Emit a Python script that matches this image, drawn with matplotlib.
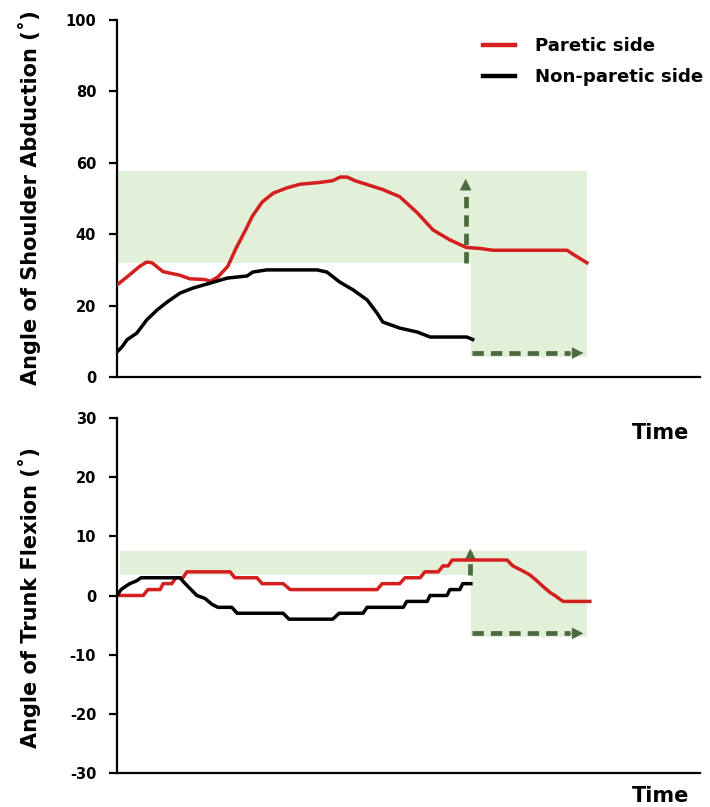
import matplotlib
matplotlib.use("Agg")
import matplotlib.pyplot as plt

plt.rcParams['font.family'] = ['DejaVu Sans']
plt.rcParams['font.weight'] = 'bold'

# ---- shoulder abduction (deg) vs normalised time ----
shoulder_paretic_t = [0, 1.7, 3.9, 5.1, 6.0, 7.9, 10.8, 12.5, 15.1, 16.0, 17.3, 19.0, 20.4, 22.0,
                      23.2, 24.9, 26.8, 29.2, 31.4, 34.8, 37.0, 38.3, 39.5, 40.8, 45.6, 48.5,
                      51.5, 54.2, 57.1, 59.9, 62.3, 64.5, 77.2, 78.6, 80.6]
shoulder_paretic = [25.8, 28.0, 31.0, 32.2, 32.0, 29.5, 28.5, 27.5, 27.3, 26.8, 28.0, 31.0, 36.0, 41.0,
                    45.0, 49.0, 51.5, 53.0, 54.0, 54.5, 55.0, 56.0, 56.0, 55.0, 52.5, 50.5,
                    46.0, 41.2, 38.4, 36.3, 36.0, 35.5, 35.5, 34.0, 32.0]

shoulder_nonparetic_t = [0, 0.9, 1.7, 3.4, 5.1, 6.9, 8.6, 10.8, 13.0, 16.0, 18.9, 22.3, 23.3, 25.7,
                         34.3, 36.0, 38.2, 40.5, 42.9, 44.6, 45.6, 48.5, 51.5, 53.7, 60.0, 61.0]
shoulder_nonparetic = [7.0, 8.5, 10.4, 12.3, 16.0, 18.8, 21.0, 23.5, 24.9, 26.3, 27.7, 28.3, 29.4, 30.0,
                       30.0, 29.4, 26.6, 24.4, 21.6, 17.9, 15.4, 13.7, 12.6, 11.2, 11.2, 10.5]

# ---- trunk flexion (deg) vs normalised time ----
trunk_paretic_t = [0, 4.5, 5.3, 7.4, 7.9, 9.4, 10.1, 11.3, 12.0, 19.4, 20.2, 24.0, 24.9, 28.5,
                   29.7, 44.6, 45.5, 48.5, 49.4, 52.0, 52.8, 55.1, 55.9, 56.8, 57.5, 66.9,
                   67.9, 69.5, 70.8, 72.0, 73.1, 74.3, 75.1, 76.5, 81.1]
trunk_paretic = [0, 0, 1, 1, 2, 2, 3, 3, 4, 4, 3, 3, 2, 2,
                 1, 1, 2, 2, 3, 3, 4, 4, 5, 5, 6, 6,
                 5, 4.2, 3.5, 2.5, 1.5, 0.5, 0, -1, -1]

trunk_nonparetic_t = [0, 0.7, 1.4, 2.2, 3.4, 4.1, 10.8, 11.7, 12.7, 13.7, 15.1, 16.3, 17.3, 19.7,
                      20.6, 28.5, 29.5, 37.0, 38.1, 42.2, 42.9, 49.1, 49.7, 53.2, 53.7, 56.6,
                      57.1, 58.8, 59.3, 60.7]
trunk_nonparetic = [0, 1, 1.5, 2, 2.5, 3, 3, 2, 1, 0, -0.5, -1.5, -2, -2,
                    -3, -3, -4, -4, -3, -3, -2, -2, -1, -1, 0, 0,
                    1, 1, 2, 2]

# target zones: (t_start, t_end, low, high)
shoulder_band = (0, 80.6, 31.9, 57.7)
shoulder_box = (60.7, 80.6, 5.5, 31.9)
trunk_band = (0.5, 80.6, 3.4, 7.6)
trunk_box = (60.7, 80.6, -7.0, 3.4)

# guide arrows: (x0, y0, x1, y1)
shoulder_up = (59.8, 32.0, 59.8, 55.5)
shoulder_right = (60.9, 6.7, 80.0, 6.7)
trunk_up = (60.6, 3.4, 60.6, 7.9)
trunk_right = (60.9, -6.4, 80.0, -6.4)

RED = '#d41f1f'
ZONE = '#e2efd9'
GUIDE = '#4b6b3c'

fig = plt.figure(figsize=(7.10, 8.07), dpi=100)
ax1 = fig.add_axes([117 / 710, 1 - 377 / 807, 583 / 710, 357 / 807])
ax2 = fig.add_axes([117 / 710, 1 - 773 / 807, 583 / 710, 355 / 807])


def zone(ax, spec):
    t0, t1, lo, hi = spec
    ax.fill_between([t0, t1], lo, hi, color=ZONE, lw=0, zorder=0)


def guide(ax, spec):
    x0, y0, x1, y1 = spec
    # dashed shaft ending a little short of the tip, then a solid head
    fx = 0.88
    xm, ym = x0 + (x1 - x0) * fx, y0 + (y1 - y0) * fx
    ax.plot([x0, xm], [y0, ym], color=GUIDE, lw=3.4, ls=(0, (2.4, 1.5)),
            solid_capstyle='butt', dash_capstyle='butt', zorder=2)
    ax.annotate('', xy=(x1, y1), xytext=(xm, ym),
                arrowprops=dict(arrowstyle='-|>,head_length=0.75,head_width=0.38',
                                color=GUIDE, lw=0.5, shrinkA=0, shrinkB=0), zorder=2)


for ax in (ax1, ax2):
    for s in ('top', 'right'):
        ax.spines[s].set_visible(False)
    for s in ('left', 'bottom'):
        ax.spines[s].set_linewidth(1.6)
    ax.set_xlim(0, 100)
    ax.set_xticks([])
    ax.tick_params(axis='y', direction='out', length=6, width=1.6, pad=9, labelsize=10.5)

# upper panel
zone(ax1, shoulder_band)
zone(ax1, shoulder_box)
ax1.plot(shoulder_paretic_t, shoulder_paretic, color=RED, lw=2.5, label='Paretic side', zorder=3)
ax1.plot(shoulder_nonparetic_t, shoulder_nonparetic, color='black', lw=2.5, label='Non-paretic side', zorder=3)
guide(ax1, shoulder_up)
guide(ax1, shoulder_right)
ax1.set_ylim(0, 100)
ax1.set_yticks([0, 20, 40, 60, 80, 100])
ax1.set_yticklabels(['0', '20', '40', '60', '80', '100'], fontweight='bold')
leg = ax1.legend(loc='upper left', bbox_to_anchor=(0.628, 0.952), frameon=False,
                 borderpad=0, borderaxespad=0, handlelength=1.76, handletextpad=1.1,
                 labelspacing=0.72, prop={'weight': 'bold', 'size': 13.1})
for h in leg.legend_handles:
    h.set_linewidth(3.2)

# lower panel
zone(ax2, trunk_band)
zone(ax2, trunk_box)
ax2.plot(trunk_paretic_t, trunk_paretic, color=RED, lw=2.5, zorder=3)
ax2.plot(trunk_nonparetic_t, trunk_nonparetic, color='black', lw=2.5, zorder=3)
guide(ax2, trunk_up)
guide(ax2, trunk_right)
ax2.set_ylim(-30, 30)
ax2.set_yticks([-30, -20, -10, 0, 10, 20, 30])
ax2.set_yticklabels(['-30', '-20', '-10', '0', '10', '20', '30'], fontweight='bold')

fig.text(30 / 710, 1 - 198 / 807, 'Angle of Shoulder Abduction (\u02da)', rotation=90,
         ha='center', va='center', fontsize=15, fontweight='bold')
fig.text(30 / 710, 1 - 598 / 807, 'Angle of Trunk Flexion (\u02da)', rotation=90,
         ha='center', va='center', fontsize=15, fontweight='bold')
fig.text(661 / 710, 1 - 433 / 807, 'Time', ha='center', va='center', fontsize=15, fontweight='bold')
fig.text(661 / 710, 1 - 796 / 807, 'Time', ha='center', va='center', fontsize=15, fontweight='bold')

fig.savefig('out.png', dpi=100, facecolor='white')
